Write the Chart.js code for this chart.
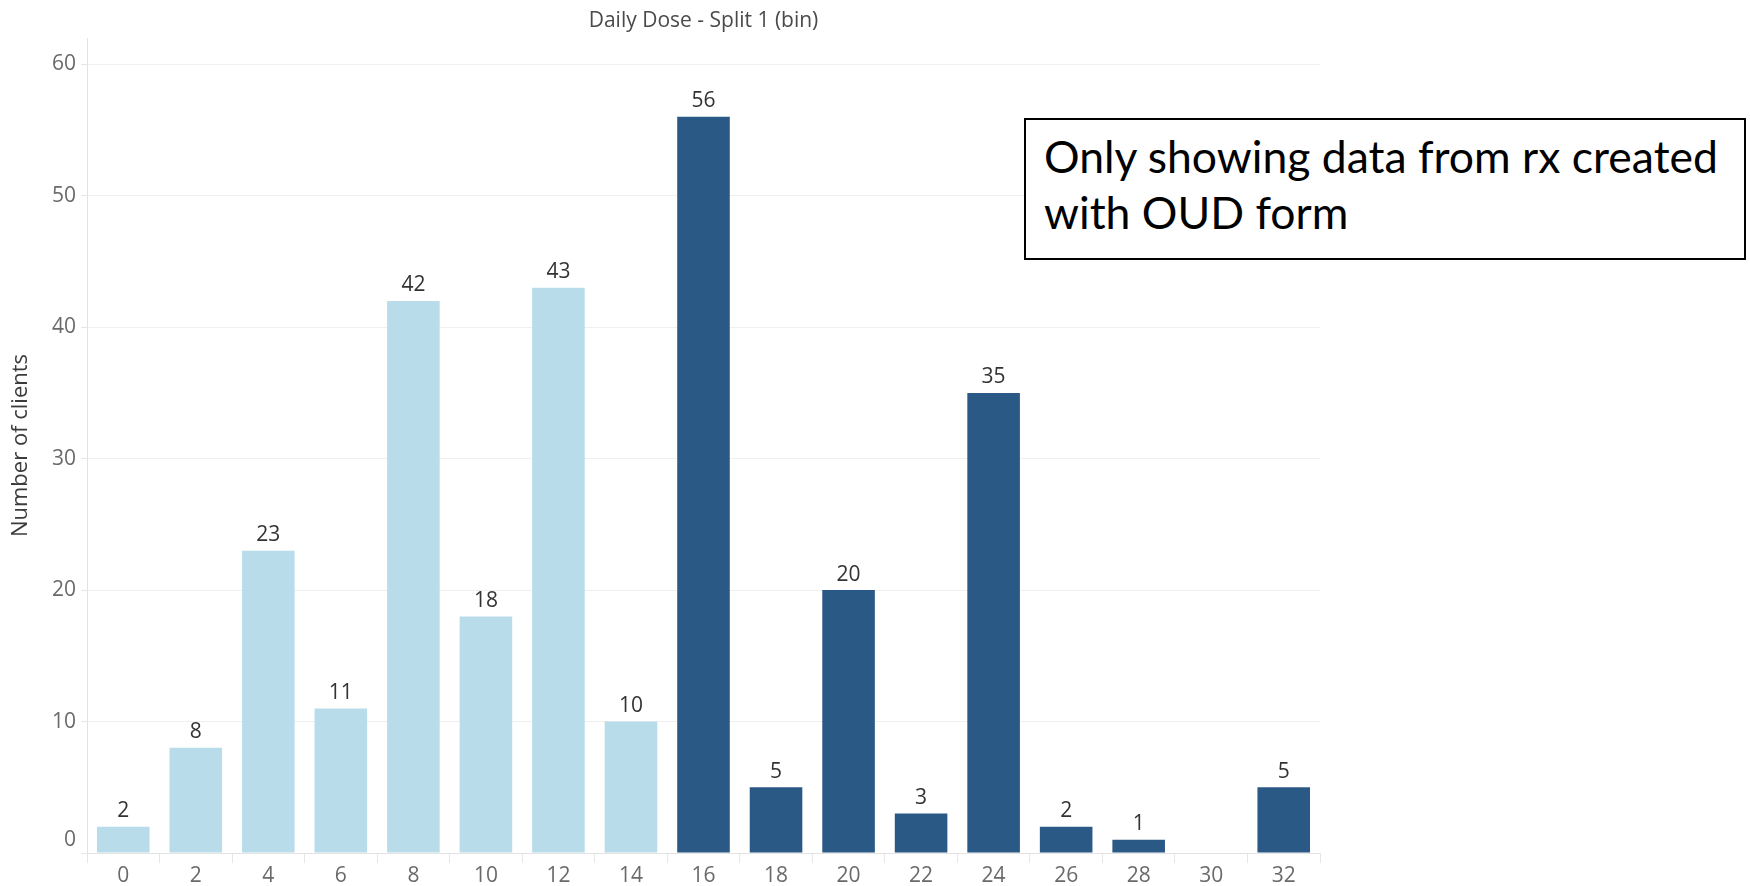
<!DOCTYPE html>
<html>
<head>
<meta charset="utf-8">
<title>Daily Dose - Split 1 (bin)</title>
<script src="https://cdn.jsdelivr.net/npm/chart.js@4.4.1/dist/chart.umd.min.js"></script>
<style>
  html, body { margin: 0; padding: 0; background: #ffffff; }
  #wrap { position: relative; width: 1750px; height: 886px; overflow: hidden; }
  canvas { display: block; }
  #note {
    position: absolute; left: 1024px; top: 118px; width: 722px; height: 142px;
    box-sizing: border-box; border: 2px solid #000; background: #fff;
    padding: 8px 0 0 18px;
    font-family: Lato, "Open Sans", sans-serif; font-size: 44.5px; line-height: 56px; color: #000;
    white-space: nowrap;
  }
</style>
</head>
<body>
<div id="wrap">
  <canvas id="chart" width="1750" height="886"></canvas>
  <div id="note">Only showing data from rx created<br>with OUD form</div>
</div>
<script>
// Daily dose bins (x axis) and number of clients in each bin
const doseBins = ['0', '2', '4', '6', '8', '10', '12', '14', '16', '18', '20', '22', '24', '26', '28', '30', '32'];
const clientCounts = [2, 8, 23, 11, 42, 18, 43, 10, 56, 5, 20, 3, 35, 2, 1, null, 5];
const yTickValues = [0, 10, 20, 30, 40, 50, 60];

// Doses from this bin upward are shown in the darker colour
const highDoseFrom = 16;
const lowColor = '#b9dcea';
const highColor = '#2b5986';

const FONT = '"Open Sans", Lato, sans-serif';

const barColors = doseBins.map(b => Number(b) >= highDoseFrom ? highColor : lowColor);

// Value labels above each bar
const valueLabels = {
  id: 'valueLabels',
  afterDatasetsDraw(chart) {
    const ctx = chart.ctx;
    const meta = chart.getDatasetMeta(0);
    ctx.save();
    ctx.font = '21px ' + FONT;
    ctx.fillStyle = '#333333';
    ctx.textAlign = 'center';
    ctx.textBaseline = 'bottom';
    meta.data.forEach((bar, i) => {
      const v = clientCounts[i];
      if (v === null || v === undefined) return;
      ctx.fillText(String(v), bar.x, bar.y - 5);
    });
    ctx.restore();
  }
};

new Chart(document.getElementById('chart'), {
  type: 'bar',
  data: {
    labels: doseBins,
    datasets: [{
      data: clientCounts,
      backgroundColor: barColors,
      borderWidth: 0,
      barPercentage: 0.725,
      categoryPercentage: 1.0
    }]
  },
  options: {
    responsive: false,
    animation: false,
    devicePixelRatio: 1,
    layout: { padding: { left: 0, top: 0, right: 430, bottom: 0 } },
    plugins: {
      legend: { display: false },
      tooltip: { enabled: false },
      title: { display: false }
    },
    scales: {
      x: {
        type: 'category',
        position: 'bottom',
        offset: true,
        grid: {
          display: true, drawOnChartArea: false, drawTicks: true,
          tickLength: 10, color: '#e6e6e6', offset: true
        },
        border: { display: true, color: '#e3e3e3' },
        ticks: {
          color: '#6a6a6a', font: { family: FONT, size: 21 }, padding: 0,
          maxRotation: 0, autoSkip: false
        },
        afterFit(scale) { scale.height = 33; }
      },
      xTop: {
        type: 'category',
        position: 'top',
        offset: true,
        grid: { display: false },
        border: { display: false },
        ticks: { display: false },
        title: {
          display: true,
          text: 'Daily Dose - Split 1 (bin)',
          color: '#4a4a4a',
          font: { family: FONT, size: 21 },
          padding: { top: 8, bottom: 0 }
        },
        afterFit(scale) { scale.height = 38; }
      },
      y: {
        min: 0,
        max: 62,
        afterBuildTicks(scale) { scale.ticks = yTickValues.map(v => ({ value: v })); },
        grid: { color: '#efefef', drawTicks: true, tickLength: 6, tickColor: '#e6e6e6' },
        border: { display: true, color: '#e3e3e3' },
        ticks: {
          color: '#6a6a6a', font: { family: FONT, size: 21 }, padding: 5,
          // the bottom label sits a little above the baseline so it clears the x axis
          callback: v => (v === 0 ? ['0', ''] : String(v))
        },
        title: {
          display: true,
          text: 'Number of clients',
          color: '#3c3c3c',
          font: { family: FONT, size: 22 },
          padding: { top: 8, bottom: 0 }
        },
        afterFit(scale) { scale.width = 87; }
      }
    }
  },
  plugins: [valueLabels]
});
</script>
</body>
</html>
